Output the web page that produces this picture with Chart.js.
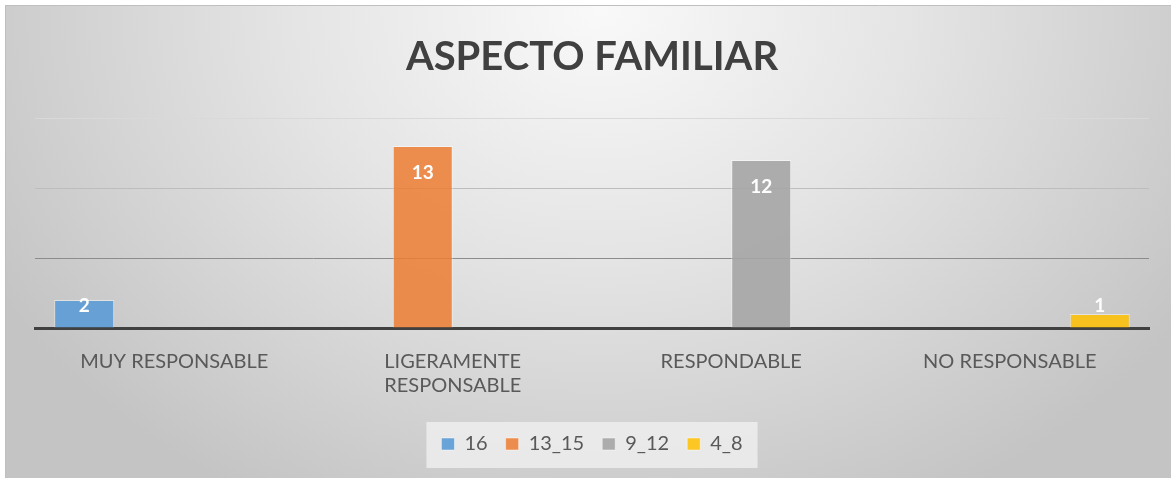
<!DOCTYPE html>
<html>
<head>
<meta charset="utf-8">
<script src="https://cdn.jsdelivr.net/npm/chart.js@4.4.1/dist/chart.umd.min.js"></script>
<style>
html,body{margin:0;padding:0;background:#fff;}
#wrap{position:relative;width:1171px;height:478px;}
</style>
</head>
<body>
<div id="wrap"><canvas id="c" width="1171" height="478"></canvas></div>
<script>
const titleText = "ASPECTO FAMILIAR";
const categories = [["MUY RESPONSABLE"], ["LIGERAMENTE", "RESPONSABLE"], ["RESPONDABLE"], ["NO RESPONSABLE"]];
const seriesNames = ["16", "13_15", "9_12", "4_8"];
const s16 = [2, null, null, null];
const s13_15 = [null, 13, null, null];
const s9_12 = [null, null, 12, null];
const s4_8 = [null, null, null, 1];
const yTicks = [0, 5, 10, 15];
const colors = ["rgba(91,155,213,0.9)", "rgba(237,125,49,0.85)", "rgba(165,165,165,0.9)", "rgba(255,192,0,0.85)"];

const FONT = "Lato, 'Open Sans', sans-serif";

const bgPlugin = {
  id: 'bg',
  beforeDraw(chart) {
    const ctx = chart.ctx, W = chart.width, H = chart.height;
    ctx.save();
    ctx.fillStyle = '#ffffff';
    ctx.fillRect(0, 0, W, H);
    const cx = 600, cy = 10, rx = 700, ry = 560;
    ctx.translate(cx, cy);
    ctx.scale(1, ry / rx);
    const g = ctx.createRadialGradient(0, 0, 0, 0, 0, rx);
    g.addColorStop(0, '#f9f9f9');
    g.addColorStop(0.45, '#e4e4e4');
    g.addColorStop(1, '#c4c4c4');
    ctx.fillStyle = g;
    ctx.fillRect(5 - cx, (5 - cy) * rx / ry, W, H * rx / ry);
    ctx.restore();
    ctx.save();
    ctx.strokeStyle = '#bfbfbf';
    ctx.lineWidth = 1;
    ctx.beginPath();
    ctx.moveTo(5, 5.5); ctx.lineTo(W, 5.5);
    ctx.moveTo(5.5, 5); ctx.lineTo(5.5, H);
    ctx.stroke();
    const lg = chart.legend;
    if (lg && lg.legendHitBoxes && lg.legendHitBoxes.length) {
      const hb = lg.legendHitBoxes;
      let l = Infinity, r = -Infinity, t = Infinity, b = -Infinity;
      hb.forEach(h => { l = Math.min(l, h.left); r = Math.max(r, h.left + h.width); t = Math.min(t, h.top); b = Math.max(b, h.top + h.height); });
      const mid = (t + b) / 2;
      ctx.fillStyle = 'rgba(242,242,242,0.75)';
      ctx.fillRect(l - 15, mid - 22, (r - l) + 30, 46);
    }
    ctx.restore();
  }
};

const labelPlugin = {
  id: 'vlabels',
  afterDatasetsDraw(chart) {
    const ctx = chart.ctx;
    ctx.save();
    ctx.fillStyle = '#ffffff';
    ctx.font = "bold 19px " + FONT;
    ctx.textAlign = 'center';
    ctx.textBaseline = 'middle';
    chart.data.datasets.forEach((ds, di) => {
      const meta = chart.getDatasetMeta(di);
      meta.data.forEach((el, i) => {
        const v = ds.data[i];
        if (v === null || v === undefined) return;
        const y = Math.min(el.y + 27, el.base - 22);
        ctx.fillText(String(v), el.x, y);
      });
    });
    ctx.restore();
  }
};

const gridColors = {0: 'rgba(0,0,0,0)', 5: '#8c8c8c', 10: '#bdbdbd', 15: '#d9d9d9'};

new Chart(document.getElementById('c'), {
  type: 'bar',
  data: {
    labels: categories,
    datasets: [
      {label: seriesNames[0], data: s16, backgroundColor: colors[0]},
      {label: seriesNames[1], data: s13_15, backgroundColor: colors[1]},
      {label: seriesNames[2], data: s9_12, backgroundColor: colors[2]},
      {label: seriesNames[3], data: s4_8, backgroundColor: colors[3]}
    ].map(d => Object.assign(d, {borderColor: 'rgba(255,255,255,0.45)', borderWidth: 1, categoryPercentage: 0.862, barPercentage: 1, skipNull: false}))
  },
  options: {
    responsive: false,
    animation: false,
    devicePixelRatio: 1,
    layout: {padding: {left: 35, right: 22, top: 22, bottom: 14}},
    plugins: {
      title: {
        display: true, text: titleText, color: '#404040',
        font: {family: FONT, size: 40, weight: 'bold'},
        padding: {top: 11.5, bottom: 36.5}
      },
      legend: {
        position: 'bottom',
        labels: {
          color: '#595959', font: {family: FONT, size: 20},
          boxWidth: 13, boxHeight: 12, padding: 18, useBorderRadius: false
        }
      },
      tooltip: {enabled: false}
    },
    scales: {
      x: {
        grid: {display: false},
        border: {display: true, color: '#404040', width: 3},
        ticks: {color: '#595959', font: {family: FONT, size: 20, lineHeight: 1.2}, padding: 14, maxRotation: 0, autoSkip: false},
        afterFit(axis) { axis.height += 4; }
      },
      y: {
        min: 0, max: 15,
        afterBuildTicks(axis) { axis.ticks = yTicks.map(v => ({value: v})); },
        ticks: {display: false},
        border: {display: false},
        grid: {drawTicks: false, color: ctx => gridColors[ctx.tick.value] || '#bfbfbf', lineWidth: 1}
      }
    }
  },
  plugins: [bgPlugin, labelPlugin]
});
</script>
</body>
</html>
